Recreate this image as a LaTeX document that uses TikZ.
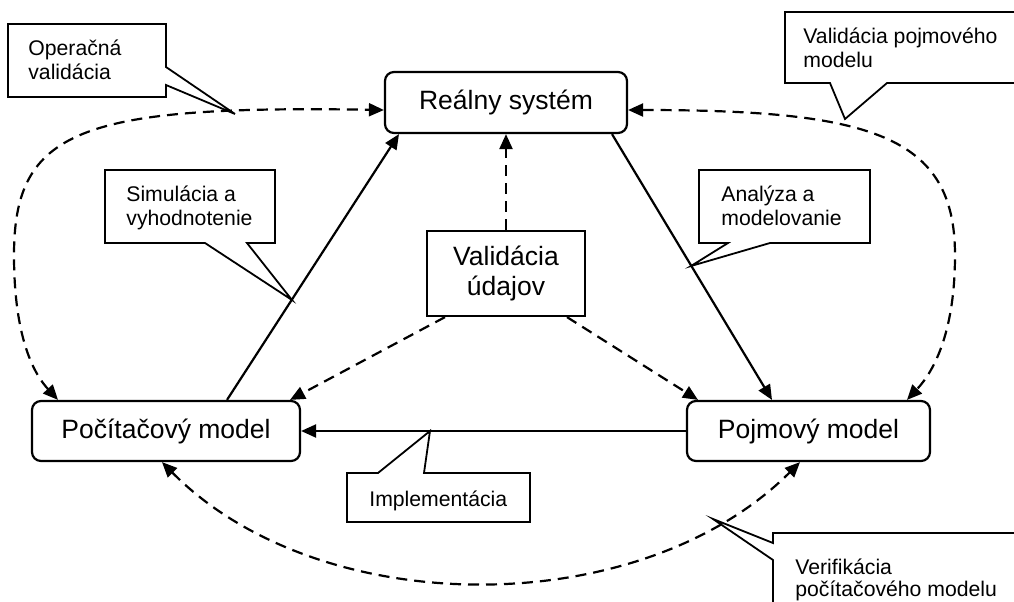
\documentclass[tikz,border=0pt]{standalone}
\usepackage{fontspec}
\setmainfont{Liberation Sans}
\usetikzlibrary{arrows.meta,calc}
\definecolor{ink}{HTML}{000000}

\begin{document}
\begin{tikzpicture}[
  x=0.5pt, y=-0.5pt,
  box/.style={
    draw=ink, line width=1.1pt, rounded corners=4.5pt,
    minimum width=121pt, minimum height=30.5pt,
    align=center, inner sep=0pt, text=ink, font=\fontsize{13.25}{15}\selectfont
  },
  datbox/.style={box, rounded corners=0pt, minimum width=79pt, minimum height=42.5pt},
  flow/.style={-{Triangle[length=7.5pt,width=6.5pt]}, line width=1.1pt, draw=ink},
  check/.style={flow, dashed, dash pattern=on 5.5pt off 3.5pt},
  twoway/.style={check, {Triangle[length=7.5pt,width=6.5pt]}-{Triangle[length=7.5pt,width=6.5pt]}},
  note/.style={draw=ink, line width=0.9pt, fill=white},
  lab/.style={font=\fontsize{10.6}{12.2}\selectfont, text=ink, align=left, anchor=north west, inner sep=0pt}
]
\useasboundingbox (0,0) rectangle (1014,601);

%% ---------- nodes ----------
\node[box] (real) at (506,102.5) {Reálny systém};
\node[box, minimum width=134pt, minimum height=30pt] (poc) at (166,431) {Počítačový model};
\node[box, minimum width=121.5pt, minimum height=30pt] (poj) at (808.5,431) {Pojmový model};
\node[datbox] (dat) at (506,273.5) {Validácia\\údajov};

%% ---------- solid flow ----------
\draw[flow] ($(poc.north)+(61,0)$) -- ($(real.south)+(-107,0)$);
\draw[flow] ($(real.south)+(106,0)$) -- ($(poj.north)+(-36.5,0)$);
\draw[flow] (poj.west) -- (poc.east);

%% ---------- data validation ----------
\draw[check] (dat.north) -- (real.south);
\draw[check] ($(dat.south)+(-61,0)$) -- ($(poc.north)+(124,0)$);
\draw[check] ($(dat.south)+(61,0)$) -- ($(poj.north)+(-110.5,0)$);

%% ---------- validation loops ----------
\draw[twoway] ($(poc.north)+(-108,0)$) .. controls (35,375) and (14,340) .. (14,255)
  .. controls (14,130) and (80,105) .. ($(real.west)+(0,7.5)$);
\draw[twoway] ($(real.east)+(0,7.5)$) .. controls (870,110) and (955,135) .. (955,255)
  .. controls (955,330) and (935,370) .. ($(poj.north)+(98.5,0)$);
\draw[twoway] ($(poc.south)+(-4,0)$) .. controls (320,622) and (640,622) .. ($(poj.south)+(-8.5,0)$);

%% ---------- callouts ----------
\draw[note] (8,24) -- (166,24) -- (166,67) -- (235,114) -- (166,85) -- (166,97) -- (8,97) -- cycle;
\node[lab] (opv) at (28,39) {Operačná\\validácia};

\draw[note] (785,12) -- (1030,12) -- (1030,83) -- (887,83) -- (845,119) -- (830,83) -- (785,83) -- cycle;
\node[lab] (vpm) at (803,27) {Validácia pojmového\\modelu};

\draw[note] (105,170) -- (275,170) -- (275,243) -- (247,243) -- (292,300) -- (205,243) -- (105,243) -- cycle;
\node[lab] (sim) at (126,185) {Simulácia a\\vyhodnotenie};

\draw[note] (699,170) -- (870,170) -- (870,243) -- (770,243) -- (691,266) -- (728,243) -- (699,243) -- cycle;
\node[lab] (ana) at (721,185) {Analýza a\\modelovanie};

\draw[note] (347,473) -- (378,473) -- (430,431) -- (424,473) -- (530,473) -- (530,522) -- (347,522) -- cycle;
\node[lab] (imp) at (369,490) {Implementácia};

\draw[note] (773,533) -- (1030,533) -- (1030,620) -- (773,620) -- (773,560) -- (713,519) -- (773,543) -- cycle;
\node[lab, font=\fontsize{10.6}{11.4}\selectfont] (ver) at (795,558) {Verifikácia\\počítačového modelu};

\end{tikzpicture}
\end{document}
